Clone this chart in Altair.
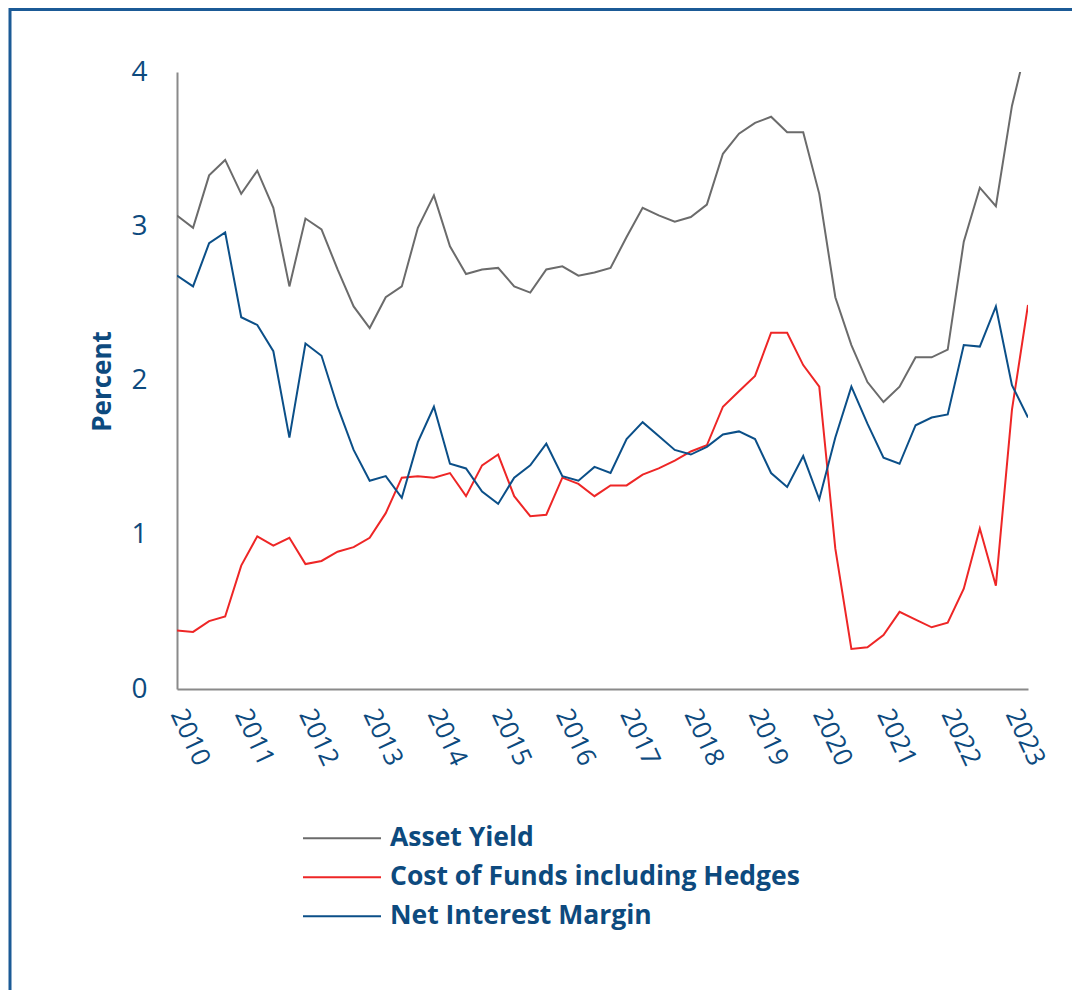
import altair as alt
import pandas as pd

years = list(range(2010, 2024))
# quarterly periods, 2010 Q1 .. 2023 Q2, as fractional years
periods = [y + (q - 1) / 4 for y in years for q in range(1, 5)][:54]

asset_yield = [3.07, 2.99, 3.33, 3.43, 3.21, 3.36, 3.12, 2.61, 3.05, 2.98,
               2.72, 2.48, 2.34, 2.54, 2.61, 2.99, 3.20, 2.87, 2.69, 2.72,
               2.73, 2.61, 2.57, 2.72, 2.74, 2.68, 2.70, 2.73, 2.93, 3.12,
               3.07, 3.03, 3.06, 3.14, 3.47, 3.60, 3.67, 3.71, 3.61, 3.61,
               3.21, 2.54, 2.23, 1.99, 1.86, 1.96, 2.15, 2.15, 2.20, 2.90,
               3.25, 3.13, 3.78, 4.21]
cost_of_funds = [0.38, 0.37, 0.44, 0.47, 0.80, 0.99, 0.93, 0.98, 0.81, 0.83,
                 0.89, 0.92, 0.98, 1.14, 1.37, 1.38, 1.37, 1.40, 1.25, 1.45,
                 1.52, 1.25, 1.12, 1.13, 1.37, 1.33, 1.25, 1.32, 1.32, 1.39,
                 1.43, 1.48, 1.54, 1.58, 1.83, 1.93, 2.03, 2.31, 2.31, 2.10,
                 1.96, 0.91, 0.26, 0.27, 0.35, 0.50, 0.45, 0.40, 0.43, 0.65,
                 1.04, 0.67, 1.81, 2.49]
nim = [2.68, 2.61, 2.89, 2.96, 2.41, 2.36, 2.19, 1.63, 2.24, 2.16,
       1.83, 1.55, 1.35, 1.38, 1.24, 1.60, 1.83, 1.46, 1.43, 1.28,
       1.20, 1.37, 1.45, 1.59, 1.38, 1.35, 1.44, 1.40, 1.62, 1.73,
       1.64, 1.55, 1.52, 1.57, 1.65, 1.67, 1.62, 1.40, 1.31, 1.51,
       1.23, 1.63, 1.96, 1.72, 1.50, 1.46, 1.71, 1.76, 1.78, 2.23,
       2.22, 2.48, 1.97, 1.76]

series_names = ["Asset Yield", "Cost of Funds including Hedges", "Net Interest Margin"]
series_colors = ["#6b6b6b", "#ee2626", "#0b4f88"]
text_color = "#0d4a7e"

rows = []
for name, vals in zip(series_names, [asset_yield, cost_of_funds, nim]):
    for p, v in zip(periods, vals):
        rows.append({"period": p, "value": v, "series": name})
df = pd.DataFrame(rows)

lines = alt.Chart(df).mark_line(strokeWidth=2, clip=True).encode(
    x=alt.X("period:Q",
            scale=alt.Scale(domain=[periods[0], periods[-1]], nice=False, zero=False),
            axis=alt.Axis(values=years, format="d",
                          title=None, ticks=False, grid=False,
                          domainColor="#8a8a8a", domainWidth=2,
                          labelAngle=65, labelAlign="left", labelBaseline="middle",
                          labelOverlap=False, labelBound=False, labelFlush=False,
                          labelPadding=21, labelFont="Open Sans", labelFontSize=26,
                          labelColor=text_color)),
    y=alt.Y("value:Q", scale=alt.Scale(domain=[0, 4], nice=False),
            axis=alt.Axis(values=[0, 1, 2, 3, 4], format="d", grid=False, ticks=False,
                          domainColor="#8a8a8a", domainWidth=2,
                          labelFont="Open Sans", labelFontSize=28, labelColor=text_color,
                          labelPadding=30,
                          title="Percent", titleFont="Open Sans", titleFontSize=26,
                          titleFontWeight="bold", titleColor=text_color,
                          titleX=-75, titleY=309, titleAngle=-90,
                          titleAlign="center", titleBaseline="middle")),
    color=alt.Color("series:N",
                    scale=alt.Scale(domain=series_names, range=series_colors),
                    legend=alt.Legend(orient="none", legendX=125, legendY=747,
                                      title=None, symbolType="stroke", symbolSize=6084,
                                      symbolStrokeWidth=2, clipHeight=38.5, rowPadding=0,
                                      labelFont="Open Sans", labelFontSize=26.5,
                                      labelFontWeight="bold", labelColor=text_color,
                                      labelOffset=8, labelLimit=700)),
)

frame_df = pd.DataFrame({"k": [0]})
left_edge = alt.Chart(frame_df).mark_rule(color="#1b5a96", strokeWidth=3).encode(
    x=alt.value(-167), y=alt.value(-64), y2=alt.value(918))
top_edge = alt.Chart(frame_df).mark_rule(color="#1b5a96", strokeWidth=3).encode(
    x=alt.value(-167), x2=alt.value(895), y=alt.value(-62.5))

chart = alt.layer(lines, left_edge, top_edge).properties(
    width=851, height=617,
    autosize=alt.AutoSizeParams(type="none"),
    padding={"left": 169, "top": 64, "right": 44, "bottom": 301},
).configure_view(stroke=None)

chart.save("out.html", embed_options={"renderer": "svg", "actions": False})
